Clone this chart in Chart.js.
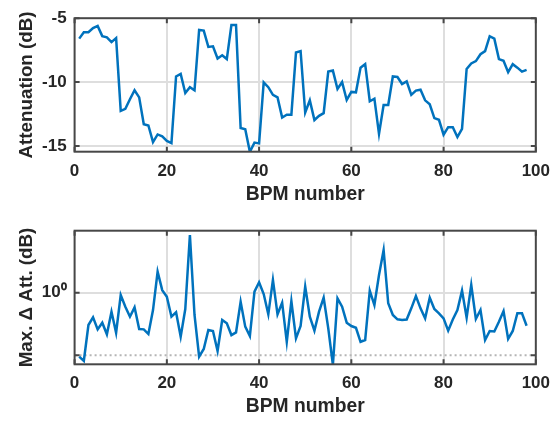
<!DOCTYPE html>
<html>
<head>
<meta charset="utf-8">
<script src="https://cdn.jsdelivr.net/npm/chart.js@4.4.0/dist/chart.umd.min.js"></script>
<style>
  html, body { margin: 0; padding: 0; background: #fff; }
  #wrap { position: relative; width: 559px; height: 422px; }
  canvas { position: absolute; left: 0; }
</style>
</head>
<body>
<div id="wrap">
  <canvas id="attChart" width="559" height="210" style="top:0"></canvas>
  <canvas id="deltaChart" width="559" height="212" style="top:210px"></canvas>
</div>
<script>
// --- Datos ---
const bpm = [
  1, 2, 3, 4, 5, 6, 7, 8, 9, 10,
  11, 12, 13, 14, 15, 16, 17, 18, 19, 20,
  21, 22, 23, 24, 25, 26, 27, 28, 29, 30,
  31, 32, 33, 34, 35, 36, 37, 38, 39, 40,
  41, 42, 43, 44, 45, 46, 47, 48, 49, 50,
  51, 52, 53, 54, 55, 56, 57, 58, 59, 60,
  61, 62, 63, 64, 65, 66, 67, 68, 69, 70,
  71, 72, 73, 74, 75, 76, 77, 78, 79, 80,
  81, 82, 83, 84, 85, 86, 87, 88, 89, 90,
  91, 92, 93, 94, 95, 96, 97, 98
];

// atenuación (dB)
const attenuation = [
  -6.6, -6.1, -6.1, -5.77, -5.6, -6.4, -6.5, -6.87, -6.56, -12.25,
  -12.1, -11.35, -10.64, -11.2, -13.3, -13.4, -14.7, -14.1, -14.25, -14.6,
  -14.77, -9.56, -9.36, -10.85, -10.4, -10.64, -5.92, -5.97, -7.25, -7.2,
  -8.15, -7.9, -8.2, -5.54, -5.54, -13.6, -13.7, -15.46, -14.74, -14.8,
  -10.02, -10.4, -11.0, -11.2, -12.77, -12.56, -12.56, -7.69, -7.58, -12.38,
  -11.43, -12.97, -12.64, -12.43, -9.18, -9.1, -10.54, -10.0, -11.4, -10.77,
  -10.8, -8.87, -8.59, -11.5, -11.3, -14.05, -11.8, -11.8, -9.56, -9.6,
  -10.15, -9.95, -11.0, -10.67, -10.6, -11.43, -11.74, -12.82, -12.95, -14.12,
  -13.53, -13.53, -14.3, -13.66, -8.97, -8.54, -8.36, -7.82, -7.58, -6.41,
  -6.6, -8.2, -8.33, -9.23, -8.6, -8.87, -9.18, -9.05
];

// máx. delta de atenuación (dB), eje log
const maxDelta = [
  0.0946, 0.0807, 0.304, 0.404, 0.259, 0.331, 0.216, 0.497, 0.229, 0.918,
  0.597, 0.413, 0.583, 0.262, 0.259, 0.218, 0.528, 2.17, 1.10, 0.863,
  0.413, 0.485, 0.198, 0.548, 8.37, 0.440, 0.0946, 0.126, 0.253, 0.244,
  0.117, 0.366, 0.324, 0.210, 0.232, 0.718, 0.286, 0.203, 1.04, 1.47,
  0.953, 0.451, 1.60, 0.451, 0.692, 0.164, 0.736, 0.186, 0.293, 1.25,
  0.413, 0.247, 0.497, 0.832, 0.269, 0.07, 0.813, 0.597, 0.331, 0.293,
  0.275, 0.164, 0.175, 1.08, 0.635, 1.92, 4.82, 0.676, 0.440, 0.375,
  0.366, 0.372, 0.562, 0.885, 0.562, 0.389, 0.832, 0.548, 0.468, 0.389,
  0.247, 0.372, 0.528, 1.08, 0.398, 1.33, 0.380, 0.528, 0.175, 0.244,
  0.240, 0.344, 0.509, 0.182, 0.244, 0.468, 0.468, 0.296
];

const noiseFloor = 0.1;           // línea punteada
const xTicks = [0, 20, 40, 60, 80, 100];
const attTicks = [-15, -10, -5];
const deltaTicks = [0.1, 1];

// --- Estilo ---
const FONT = 'Liberation Sans, Arial, Helvetica, sans-serif';
const TEXT = '#262626';
const AXIS = '#474747';
const GRID = '#dedede';
const BLUE = '#0072BD';

// marco + marcas hacia adentro (estilo MATLAB)
const framePlugin = {
  id: 'frame',
  afterDatasetsDraw(chart) {
    const { ctx, chartArea: a, scales } = chart;
    const len = 5;
    ctx.save();
    ctx.strokeStyle = AXIS;
    ctx.lineWidth = 2;
    ctx.beginPath();
    scales.x.ticks.forEach(t => {
      const px = scales.x.getPixelForValue(t.value);
      ctx.moveTo(px, a.bottom); ctx.lineTo(px, a.bottom - len);
      ctx.moveTo(px, a.top); ctx.lineTo(px, a.top + len);
    });
    scales.y.ticks.forEach(t => {
      const py = scales.y.getPixelForValue(t.value);
      ctx.moveTo(a.left, py); ctx.lineTo(a.left + len, py);
      ctx.moveTo(a.right, py); ctx.lineTo(a.right - len, py);
    });
    ctx.stroke();
    ctx.strokeRect(a.left, a.top, a.right - a.left, a.bottom - a.top);
    ctx.restore();
  }
};

function xScale() {
  return {
    type: 'linear',
    min: 0,
    max: 100,
    afterBuildTicks: s => { s.ticks = xTicks.map(v => ({ value: v })); },
    afterFit: s => { s.height = s.chart.height - s.chart.options.plotBottom; },
    border: { display: false },
    grid: {
      drawTicks: false,
      lineWidth: 2,
      color: c => (c.tick && (c.tick.value === 0 || c.tick.value === 100)) ? 'rgba(0,0,0,0)' : GRID
    },
    ticks: { color: TEXT, padding: 9, maxRotation: 0, font: { family: FONT, size: 17, weight: 'bold' } },
    title: {
      display: true,
      text: 'BPM number',
      color: TEXT,
      padding: { top: 0, bottom: 4 },
      font: { family: FONT, size: 19.3, weight: 'bold' }
    }
  };
}

function yTitle(text) {
  return {
    display: true,
    text: text,
    color: TEXT,
    padding: { top: 16, bottom: 0 },
    font: { family: FONT, size: 18.8, weight: 'bold' }
  };
}

// 1. Atenuación
new Chart(document.getElementById('attChart'), {
  type: 'line',
  data: {
    labels: bpm,
    datasets: [{
      data: attenuation.map((v, i) => ({ x: bpm[i], y: v })),
      borderColor: BLUE,
      borderWidth: 2.5,
      pointRadius: 0,
      tension: 0
    }]
  },
  options: {
    responsive: false,
    animation: false,
    plotBottom: 151.7,
    layout: { padding: { top: 15.7, right: 21, left: 0, bottom: 0 } },
    plugins: { legend: { display: false }, tooltip: { enabled: false } },
    scales: {
      x: xScale(),
      y: {
        type: 'linear',
        min: -15.45,
        max: -5,
        afterBuildTicks: s => { s.ticks = attTicks.map(v => ({ value: v })); },
        afterFit: s => { s.width = 74.6; },
        border: { display: false },
        grid: {
          drawTicks: false,
          lineWidth: 2,
          color: c => (c.tick && c.tick.value === -5) ? 'rgba(0,0,0,0)' : GRID
        },
        ticks: { color: TEXT, padding: 8, font: { family: FONT, size: 17, weight: 'bold' } },
        title: yTitle('Attenuation (dB)')
      }
    }
  },
  plugins: [framePlugin]
});

// 2. Máx. delta (log)
new Chart(document.getElementById('deltaChart'), {
  type: 'line',
  data: {
    labels: bpm,
    datasets: [
      {
        data: maxDelta.map((v, i) => ({ x: bpm[i], y: v })),
        borderColor: BLUE,
        borderWidth: 2.5,
        pointRadius: 0,
        tension: 0
      },
      {
        data: [{ x: 0, y: noiseFloor }, { x: 100, y: noiseFloor }],
        borderColor: '#b5b5b5',
        borderWidth: 2,
        borderDash: [2, 3],
        pointRadius: 0
      }
    ]
  },
  options: {
    responsive: false,
    animation: false,
    plotBottom: 154.3,
    layout: { padding: { top: 20.7, right: 21, left: 0, bottom: 0 } },
    plugins: { legend: { display: false }, tooltip: { enabled: false } },
    scales: {
      x: xScale(),
      y: {
        type: 'logarithmic',
        min: 0.0715,
        max: 9.82,
        afterBuildTicks: s => { s.ticks = deltaTicks.map(v => ({ value: v })); },
        afterFit: s => { s.width = 74.6; },
        border: { display: false },
        grid: {
          drawTicks: false,
          lineWidth: 2,
          color: c => (c.tick && c.tick.value === 1) ? GRID : 'rgba(0,0,0,0)'
        },
        ticks: {
          color: TEXT,
          padding: 8,
          font: { family: FONT, size: 17, weight: 'bold' },
          callback: v => (v === 1 ? '10\u2070' : '')
        },
        title: yTitle('Max. \u0394 Att. (dB)')
      }
    }
  },
  plugins: [framePlugin]
});
</script>
</body>
</html>
